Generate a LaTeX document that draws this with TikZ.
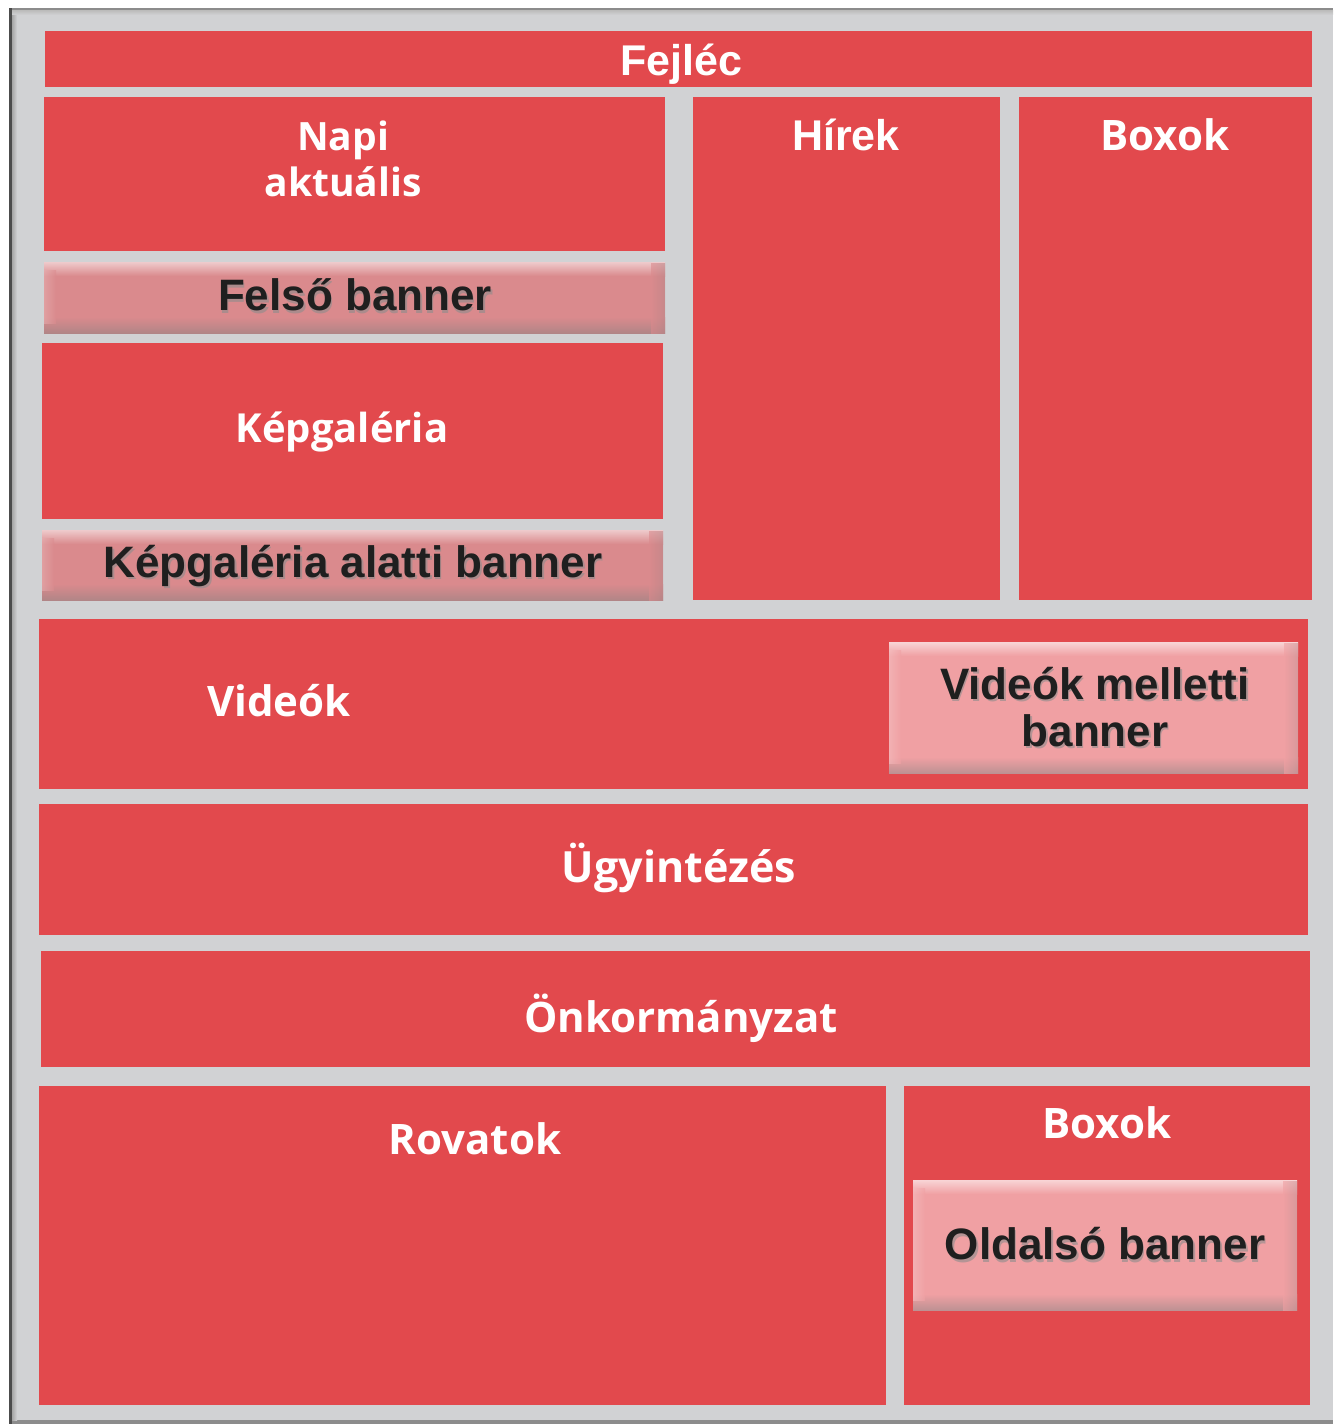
\documentclass[tikz,border=0pt]{standalone}
\usepackage{fontspec}
\setmainfont{Open Sans}
\newfontfamily\arialb{Liberation Sans}
\definecolor{panelgray}{HTML}{D1D2D4}
\definecolor{boxred}{HTML}{E2494D}
\definecolor{bandark}{HTML}{DA8A8D}
\definecolor{banlight}{HTML}{F0A0A3}
\tikzset{
  redbox/.style={fill=boxred, draw=none, inner sep=0pt, anchor=north west},
  wtitle/.style={text=white, font=\fontsize{42}{46}\selectfont\bfseries, align=center, inner sep=0pt},
  atitle/.style={text=white, font=\arialb\fontsize{43}{48}\selectfont\bfseries, align=center, inner sep=0pt},
  btext/.style={text=black!88, font=\arialb\fontsize{44}{47}\selectfont\bfseries, align=center, inner sep=0pt},
  bshadow/.style={text=black!45, font=\arialb\fontsize{44}{47}\selectfont\bfseries, align=center, inner sep=0pt, opacity=0.6},
}
% \mybanner{name}{x1}{y1}{x2}{y2}{color}
\newcommand{\mybanner}[6]{%
  \fill[#6] (#2,#3) rectangle (#4,#5);
  \shade[top color=white!55!#6, bottom color=#6] (#2,#3) rectangle (#4,#3+14);
  \shade[top color=#6, bottom color=#6!55!gray] (#2,#5-16) rectangle (#4,#5);
  \shade[left color=#6, right color=#6!65!gray, opacity=0.6] (#4-14,#3+1) rectangle (#4,#5);
  \shade[left color=white!30!#6, right color=#6, opacity=0.6] (#2,#3+8) rectangle (#2+12,#5-10);
  \node[inner sep=0pt, minimum width=#4pt-#2pt, minimum height=#5pt-#3pt, anchor=north west] (#1) at (#2,#3) {};
}
\begin{document}
\begin{tikzpicture}[x=1pt,y=-1pt]
\useasboundingbox (0,0) rectangle (1333,1426);
% panel
\fill[panelgray] (9,8) rectangle (1333,1424);
\fill[black!45] (9,8) rectangle (1333,11);
\fill[black!45] (9,1420) rectangle (1333,1424);
\fill[black!70] (9,8) rectangle (12,1424);
\shade[left color=black!35, right color=panelgray] (12,11) rectangle (17,1420);
\shade[top color=black!25, bottom color=panelgray] (12,11) rectangle (1333,15);

% red boxes
\node[redbox, minimum width=1267pt, minimum height=56pt] (fejlec) at (45,31) {};
\node[redbox, minimum width=621pt, minimum height=154pt] (napi) at (44,97) {};
\node[redbox, minimum width=307pt, minimum height=503pt] (hirek) at (693,97) {};
\node[redbox, minimum width=293pt, minimum height=503pt] (boxok1) at (1019,97) {};
\node[redbox, minimum width=621pt, minimum height=176pt] (kepgal) at (42,343) {};
\node[redbox, minimum width=1269pt, minimum height=170pt] (videok) at (39,619) {};
\node[redbox, minimum width=1269pt, minimum height=131pt] (ugy) at (39,804) {};
\node[redbox, minimum width=1269pt, minimum height=116pt] (onk) at (41,951) {};
\node[redbox, minimum width=847pt, minimum height=319pt] (rovatok) at (39,1086) {};
\node[redbox, minimum width=406pt, minimum height=319pt] (boxok2) at (904,1086) {};

% banners
\mybanner{felso}{44}{262}{665}{333}{bandark}
\mybanner{kgban}{42}{530}{663}{600}{bandark}
\mybanner{vidban}{889}{642}{1298}{773}{banlight}
\mybanner{oldban}{913}{1180}{1297}{1310}{banlight}

% white titles
\node[atitle] (tfejlec) at (681,64) {Fejléc};
\node[wtitle, font=\fontsize{39}{46}\selectfont\bfseries] (tnapi) at (343,159) {Napi\\aktuális};
\node[atitle] (thirek) at (846,135) {Hírek};
\node[wtitle] (tboxok1) at (1165,135) {Boxok};
\node[wtitle, font=\fontsize{40}{46}\selectfont\bfseries] (tkepgal) at (342,432) {Képgaléria};
\node[wtitle] (tvideok) at (279,701) {Videók};
\node[wtitle, font=\fontsize{43}{46}\selectfont\bfseries] (tugy) at (679,868) {Ügyintézés};
\node[wtitle] (tonk) at (681,1018) {Önkormányzat};
\node[wtitle] (trovatok) at (475,1139) {Rovatok};
\node[wtitle] (tboxok2) at (1107,1123) {Boxok};

% banner texts
\node[bshadow] (sfelso) at (356.5,297.5) {Felső banner};
\node[btext] (tfelso) at (355,295) {Felső banner};
\node[bshadow] (skgban) at (354.5,568.5) {Képgaléria alatti banner};
\node[btext] (tkgban) at (353,566) {Képgaléria alatti banner};
\node[bshadow] (svidban) at (1096.5,709.5) {Videók melletti\\banner};
\node[btext] (tvidban) at (1095,707) {Videók melletti\\banner};
\node[bshadow] (soldban) at (1106.5,1246.5) {Oldalsó banner};
\node[btext] (toldban) at (1105,1244) {Oldalsó banner};
\end{tikzpicture}
\end{document}
